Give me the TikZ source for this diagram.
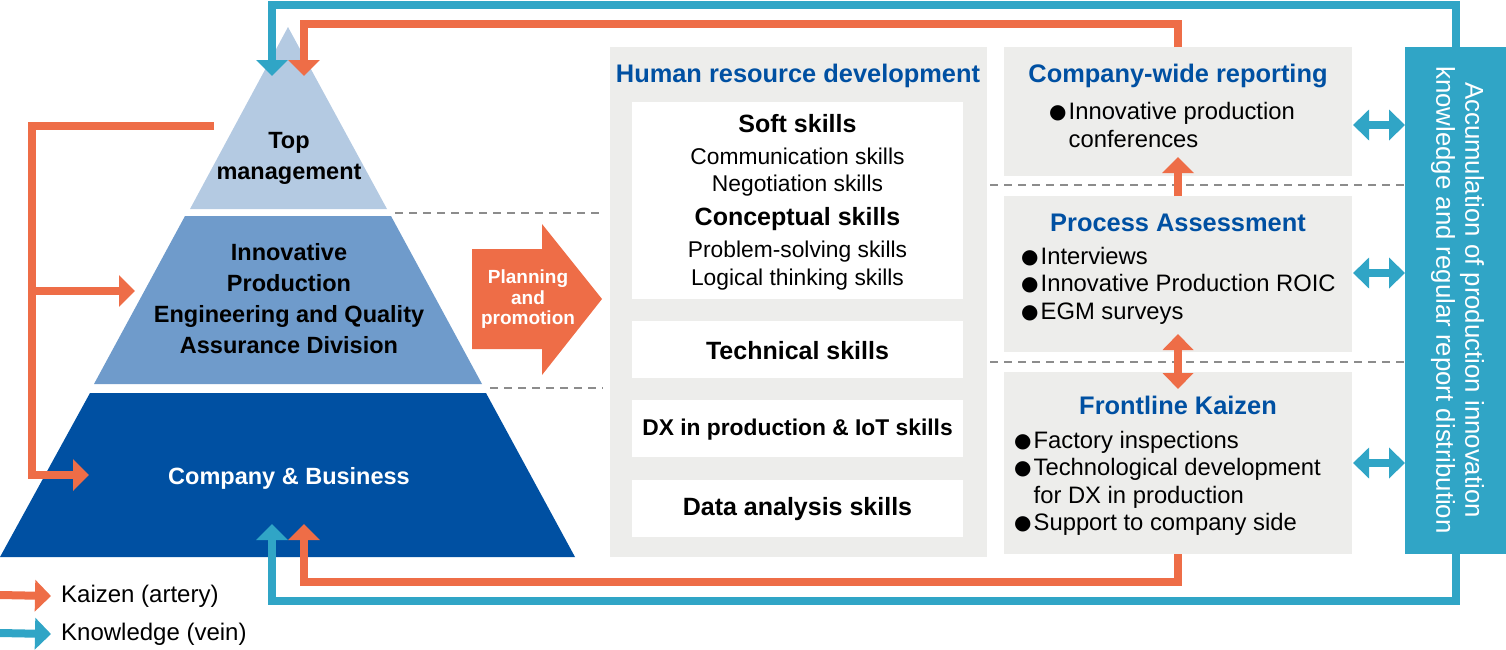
\documentclass[tikz,border=0pt]{standalone}
\usepackage{fontspec}
\setmainfont{Liberation Sans}
\newfontfamily\dvfont{DejaVu Sans}
\usetikzlibrary{arrows.meta}
\definecolor{org}{HTML}{EE6D47}
\definecolor{tea}{HTML}{30A5C6}
\definecolor{dkb}{HTML}{0050A2}
\definecolor{mdb}{HTML}{6F9BCB}
\definecolor{ltb}{HTML}{B4CAE2}
\definecolor{gry}{HTML}{EDEDEB}
\definecolor{dsh}{HTML}{8C8C8C}
\newcommand\myfs[2]{\fontsize{#1}{#2}\selectfont}
\newcommand\bul{\raisebox{1pt}{\dvfont\myfs{20}{20}●}}
\begin{document}
\begin{tikzpicture}[x=1pt,y=-1pt,
  boxx/.style={inner sep=0pt,outer sep=0pt,draw=none},
  kzline/.style={draw=org,line width=8pt},
  knline/.style={draw=tea,line width=8pt},
  endarr/.style={-{Triangle[width=31pt,length=16pt]}},
  twoarr/.style={{Triangle[width=30pt,length=16pt]}-{Triangle[width=30pt,length=16pt]}},
  dashln/.style={draw=dsh,line width=2pt,dash pattern=on 8pt off 6pt},
  pyrtxt/.style={font=\bfseries\myfs{23.5}{31},align=center},
  ttl/.style={font=\bfseries\myfs{25.4}{30},text=dkb},
  hd/.style={font=\bfseries\myfs{25}{30}},
  lt/.style={font=\myfs{22.8}{29}},
  bl/.style={font=\myfs{23.8}{27.3},anchor=west,inner sep=0pt}]
\useasboundingbox (0,0) rectangle (1506,649);

% pyramid
\fill[ltb] (288,27) -- (387,209) -- (190,209) -- cycle;
\fill[mdb] (185,216) -- (391,216) -- (482,384) -- (94,384) -- cycle;
\fill[dkb] (90,393) -- (486,393) -- (575,557) -- (0,557) -- cycle;
\node[pyrtxt] (top) at (289,158) {Top\\management};
\node[pyrtxt] (mid) at (289,298.5) {Innovative\\Production\\Engineering and Quality\\Assurance Division};
\node[pyrtxt,text=white] (bot) at (289,478) {Company \& Business};

% dashed separators
\draw[dashln] (395,213) -- (603,213);
\draw[dashln] (490,388) -- (603,388);
\draw[dashln] (990,185) -- (1405,185);
\draw[dashln] (990,362) -- (1405,362);

% planning arrow
\fill[org] (472,249) -- (542,249) -- (542,224) -- (602,299) -- (542,375) -- (542,349) -- (472,349) -- cycle;
\node[font=\bfseries\myfs{19}{20.5},text=white,align=center] (plan) at (528,299.5) {Planning\\and\\promotion};

% HRD
\node[boxx,fill=gry,minimum width=377pt,minimum height=510pt] (hrd) at (798.5,302) {};
\node[ttl] (hrdt) at (798,76) {Human resource development};
\node[boxx,fill=white,minimum width=331pt,minimum height=197pt] (soft) at (797.5,200.5) {};
\node[boxx,fill=white,minimum width=331pt,minimum height=57pt] (tech) at (797.5,349.5) {};
\node[boxx,fill=white,minimum width=331pt,minimum height=57pt] (dx) at (797.5,428.5) {};
\node[boxx,fill=white,minimum width=331pt,minimum height=57pt] (data) at (797.5,508.5) {};
\node[hd] (s1) at (797.5,124) {Soft skills};
\node[lt] (s2) at (797.5,156.5) {Communication skills};
\node[lt] (s3) at (797.5,186) {Negotiation skills};
\node[hd] (s4) at (797.5,219) {Conceptual skills};
\node[lt] (s5) at (797.5,251.5) {Problem-solving skills};
\node[lt] (s6) at (797.5,280) {Logical thinking skills};
\node[hd] at ([yshift=-1pt]tech.center) {Technical skills};
\node[font=\bfseries\myfs{22.8}{26}] at ([yshift=-1.5pt]dx.center) {DX in production \& IoT skills};
\node[hd] at ([yshift=-1pt]data.center) {Data analysis skills};

% right column
\node[boxx,fill=gry,minimum width=348pt,minimum height=129pt] (cw) at (1178,111.5) {};
\node[boxx,fill=gry,minimum width=348pt,minimum height=156pt] (pa) at (1178,274) {};
\node[boxx,fill=gry,minimum width=348pt,minimum height=182pt] (fk) at (1178,463) {};
\node[boxx,fill=tea,minimum width=101pt,minimum height=507pt] (acc) at (1455.5,300.5) {};
\node[ttl] (cwt) at (1178,76) {Company-wide reporting};
\node[ttl] (pat) at (1178,223) {Process Assessment};
\node[ttl] (fkt) at (1178,405) {Frontline Kaizen};
\node[bl] (cwb) at (1049,128) {\begin{tabular}{@{}l@{\hspace{2pt}}l@{}}\bul&Innovative production\\ &conferences\end{tabular}};
\node[bl] (pab) at (1021,286.5) {\begin{tabular}{@{}l@{\hspace{2pt}}l@{}}\bul&Interviews\\ \bul&Innovative Production ROIC\\ \bul&EGM surveys\end{tabular}};
\node[bl] (fkb) at (1014,484) {\begin{tabular}{@{}l@{\hspace{2pt}}l@{}}\bul&Factory inspections\\ \bul&Technological development\\ &for DX in production\\ \bul&Support to company side\end{tabular}};
\node[rotate=-90,text=white,align=center,font=\myfs{25.8}{29}] (acct) at (1457.5,300) {Accumulation of production innovation\\knowledge and regular report distribution};

% connectors between right boxes
\draw[kzline,endarr] (pa.north) -- (1178,157);
\draw[kzline,twoarr] (1178,334) -- (1178,389);
\draw[knline,twoarr] (1353,125) -- (acc.west |- 0,125);
\draw[knline,twoarr] (1353,273) -- (acc.west |- 0,273);
\draw[knline,twoarr] (1353,463) -- (acc.west |- 0,463);

% main loops
\coordinate (otop) at (304,24);
\coordinate (otip) at (304,76);
\coordinate (btop) at (272,5);
\coordinate (btip) at (272,76);
\draw[kzline,endarr] (cw.north) |- (otop) -- (otip);
\draw[knline,endarr] (acc.north) |- (btop) -- (btip);
\coordinate (obot) at (304,582);
\coordinate (obtip) at (304,524);
\coordinate (bbot) at (272,601);
\coordinate (bbtip) at (272,524);
\draw[kzline,endarr] (fk.south) |- (obot) -- (obtip);
\draw[knline,endarr] (acc.south) |- (bbot) -- (bbtip);

% left orange
\coordinate (lstart) at (214,126);
\coordinate (lcorner) at (32,475);
\coordinate (lmid) at (32,291);
\draw[kzline,endarr] (lstart) -| (lcorner) -- (89,475);
\draw[kzline,endarr] (lmid) -- (135,291);

% legend
\coordinate (lg1) at (0,595);
\coordinate (lg2) at (0,633);
\node[font=\myfs{24}{27},anchor=west,inner sep=0pt] (lgk) at (61,596) {Kaizen (artery)};
\node[font=\myfs{24}{27},anchor=west,inner sep=0pt] (lgv) at (61,634) {Knowledge (vein)};
\draw[kzline,endarr] (lg1) -- (lgk.west -| 51,0);
\draw[knline,endarr] (lg2) -- (lgv.west -| 51,0);
\end{tikzpicture}
\end{document}
